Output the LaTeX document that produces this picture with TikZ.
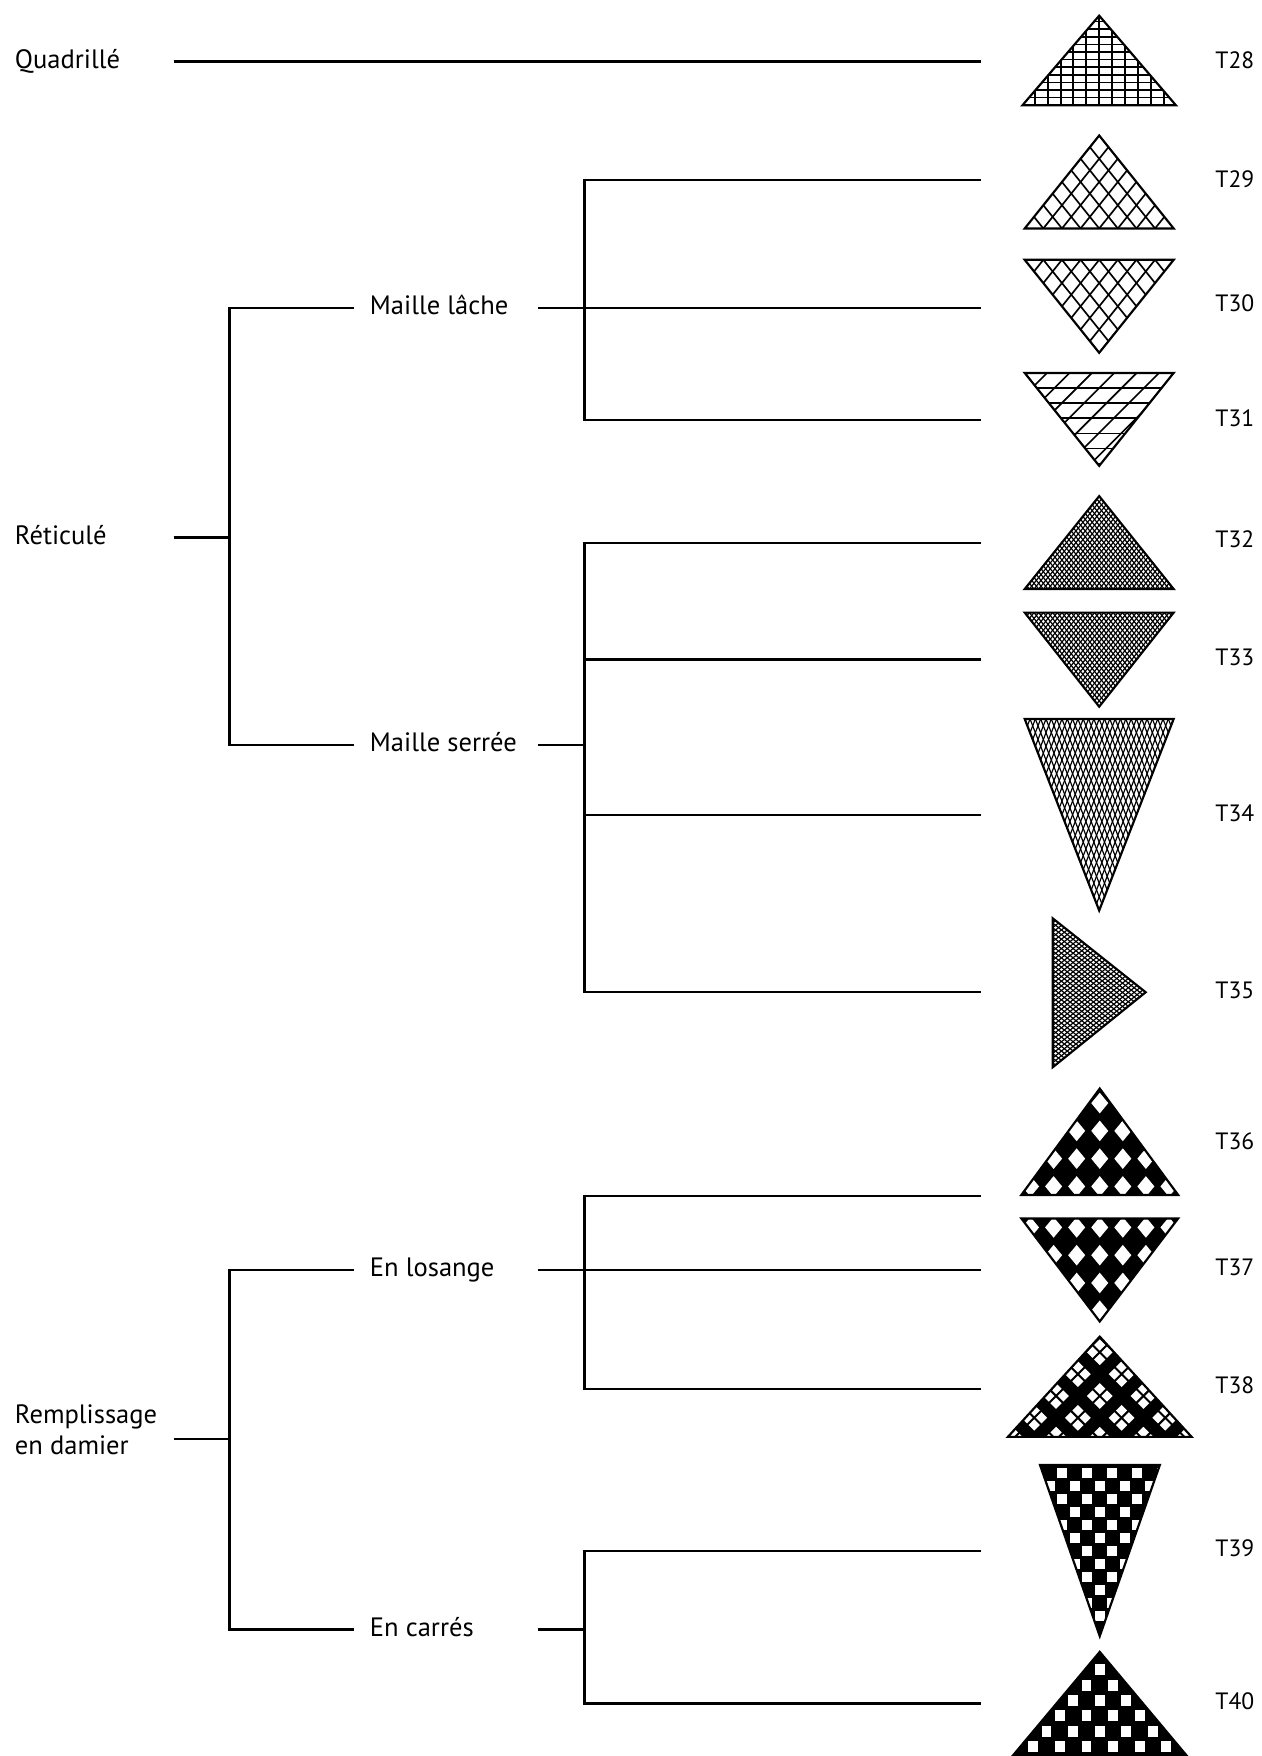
\documentclass[tikz,border=0pt]{standalone}
\usepackage{fontspec}
\setmainfont{PT Sans}
\usetikzlibrary{calc}
\tikzset{
  link/.style={line width=1.15pt,line join=miter},
  lbl/.style={anchor=west,inner sep=0pt,text height=0.7em,text depth=0pt,
    font=\fontsize{13.5}{16}\selectfont},
  code/.style={lbl,font=\fontsize{12}{14}\selectfont},
  edge/.style={line width=1.1pt,line join=miter},
  hatch/.style={line width=0.85pt},
  fine/.style={line width=0.6pt},
}
% triangle with base at y=#2 from x=#1 to #1+#3, apex offset #4, cross hatched parallel to the sides
\newcommand\hatchtri[6]{%
  \begin{scope}
    \clip (#1,#2) -- ++({#3/2},{#4}) -- ++({#3/2},{-(#4)}) -- cycle;
    \pgfmathtruncatemacro\hlast{#5-1}
    \foreach \k in {1,...,\hlast}{
      \draw[#6] ({#1+\k*#3/#5-0.1*#3},{#2-0.2*(#4)}) -- ++({0.7*#3},{1.4*(#4)});
      \draw[#6] ({#1+\k*#3/#5+0.1*#3},{#2-0.2*(#4)}) -- ++({-0.7*#3},{1.4*(#4)});
    }
  \end{scope}
  \draw[edge] (#1,#2) -- ++({#3/2},{#4}) -- ++({#3/2},{-(#4)}) -- cycle;
}

\begin{document}
\begin{tikzpicture}[x=0.02cm,y=-0.02cm]
  \useasboundingbox[fill=white] (0,0) rectangle (1126,1568);

  % labels of the tree
  \node[lbl] (quad) at (13,55) {Quadrillé};
  \node[lbl] (reti) at (13,480) {Réticulé};
  \node[lbl] (lache) at (330,275) {Maille lâche};
  \node[lbl] (serree) at (330,665) {Maille serrée};
  \node[lbl] (damier) at (13,1265) {Remplissage};
  \node[lbl] (damier2) at (13,1293) {en damier};
  \node[lbl] (losange) at (330,1134) {En losange};
  \node[lbl] (carres) at (330,1455) {En carrés};
  \coordinate (jd) at (205,1285);

  % ends of the branches, next to the triangles
  \coordinate (e28) at (876,55);
  \coordinate (e29) at (876,161);
  \coordinate (e30) at (876,275);
  \coordinate (e31) at (876,375);
  \coordinate (e32) at (876,485);
  \coordinate (e33) at (876,589);
  \coordinate (e34) at (876,728);
  \coordinate (e35) at (876,886);
  \coordinate (e36) at (876,1068);
  \coordinate (e37) at (876,1134);
  \coordinate (e38) at (876,1240);
  \coordinate (e39) at (876,1385);
  \coordinate (e40) at (876,1521);

  % codes
  \foreach \t/\y in {28/55,29/161,30/272,31/375,32/483,33/588,34/727,35/885,
                     36/1020,37/1133,38/1238,39/1384,40/1520}
    \node[code] (l\t) at (1085,\y) {T\t};

  % tree
  \draw[link] (155,0 |- quad) -- (e28);
  \draw[link] (155,0 |- reti) -- (205,0 |- reti);
  \draw[link] ($(lache.west)+(-14,0)$) -- (205,0 |- lache)
    -- (205,0 |- serree) -- ($(serree.west)+(-14,0)$);
  \draw[link] (480,0 |- lache) -- (e30);
  \draw[link] (e29) -- (522,0 |- e29) -- (522,0 |- e31) -- (e31);
  \draw[link] (480,0 |- serree) -- (522,0 |- serree);
  \draw[link] (e32) -- (522,0 |- e32) -- (522,0 |- e35) -- (e35);
  \draw[link] (e33) -- (522,0 |- e33);
  \draw[link] (e34) -- (522,0 |- e34);
  \draw[link] (155,0 |- jd) -- (jd);
  \draw[link] ($(losange.west)+(-14,0)$) -- (205,0 |- losange)
    -- (205,0 |- carres) -- ($(carres.west)+(-14,0)$);
  \draw[link] (480,0 |- losange) -- (e37);
  \draw[link] (e36) -- (522,0 |- e36) -- (522,0 |- e38) -- (e38);
  \draw[link] (480,0 |- carres) -- (522,0 |- carres);
  \draw[link] (e39) -- (522,0 |- e39) -- (522,0 |- e40) -- (e40);

  % T28 square grid
  \begin{scope}
    \clip (913,94) -- (981.5,14) -- (1050,94) -- cycle;
    \foreach \k in {-6,...,6} \draw[hatch,line width=1pt] (981.5+\k*11.5,10) -- ++(0,90);
    \foreach \k in {1,...,12} \draw[hatch] (905,94-\k*6.8) -- ++(150,0);
  \end{scope}
  \draw[edge] (913,94) -- (981.5,14) -- (1050,94) -- cycle;

  % T29, T30 open mesh
  \hatchtri{915}{204}{133}{-83}{8}{hatch}
  \hatchtri{915}{232}{133}{83}{8}{hatch}

  % T31 horizontals and slants
  \begin{scope}
    \clip (915,333) -- (981.5,416) -- (1048,333) -- cycle;
    \foreach \k in {1,...,6} \draw[hatch] (905,333+\k*13.5) -- ++(150,0);
    \foreach \k in {0,...,8} \draw[hatch] (925+\k*20,323) -- ++(-110,110);
  \end{scope}
  \draw[edge] (915,333) -- (981.5,416) -- (1048,333) -- cycle;

  % T32 to T34 close mesh
  \hatchtri{915}{526}{133}{-83}{32}{fine}
  \hatchtri{915}{547}{133}{84}{32}{fine}
  \hatchtri{915}{642}{133}{171}{28}{fine}

  % T35 pointing right
  \begin{scope}
    \clip (940,820) -- (1023,886) -- (940,953) -- cycle;
    \foreach \k in {1,...,31}{
      \draw[fine] (923.4,820+\k*4.16-13.2) -- ++(116.2,92.4);
      \draw[fine] (923.4,820+\k*4.16+13.4) -- ++(116.2,-93.8);
    }
  \end{scope}
  \draw[edge] (940,820) -- (1023,886) -- (940,953) -- cycle;

  % T36, T37 white lozenges
  \fill (912,1067) -- (982,972) -- (1052,1067) -- cycle;
  \begin{scope}
    \clip (912,1067) -- (982,972) -- (1052,1067) -- cycle;
    \foreach \r in {0,...,3} \foreach \c in {-4,...,4}
      \fill[white] (982+\c*20.6,985+\r*24.8) +(-7.6,0) -- +(0,-9.2) -- +(7.6,0) -- +(0,9.2) -- cycle;
  \end{scope}
  \draw[edge] (912,1067) -- (982,972) -- (1052,1067) -- cycle;

  \fill (912,1088) -- (982,1180) -- (1052,1088) -- cycle;
  \begin{scope}
    \clip (912,1088) -- (982,1180) -- (1052,1088) -- cycle;
    \foreach \r in {0,...,3} \foreach \c in {-4,...,4}
      \fill[white] (982+\c*20.6,1096+\r*24.8) +(-7.6,0) -- +(0,-9.2) -- +(7.6,0) -- +(0,9.2) -- cycle;
  \end{scope}
  \draw[edge] (912,1088) -- (982,1180) -- (1052,1088) -- cycle;

  % T38 clustered lozenges
  \fill (900,1283) -- (982,1193.5) -- (1064,1283) -- cycle;
  \begin{scope}
    \clip (900,1283) -- (982,1193.5) -- (1064,1283) -- cycle;
    \foreach \i in {0,...,14} \foreach \j in {0,...,14}{
      \pgfmathtruncatemacro\mi{mod(\i,3)}
      \pgfmathtruncatemacro\mj{mod(\j,3)}
      \ifnum\mi<2 \ifnum\mj<2
        \fill[white] (982+\i*6.5-\j*6.5,1201+\i*6.5+\j*6.5) +(-5,0) -- +(0,-5) -- +(5,0) -- +(0,5) -- cycle;
      \fi\fi
    }
  \end{scope}
  \draw[edge] (900,1283) -- (982,1193.5) -- (1064,1283) -- cycle;

  % T39, T40 squares
  \fill (928.6,1308) -- (982,1461) -- (1035.7,1308) -- cycle;
  \begin{scope}
    \clip (928.6,1308) -- (982,1461) -- (1035.7,1308) -- cycle;
    \foreach \r in {0,...,12} \foreach \c in {-5,...,5}
      \fill[white] ({982+\c*22.4+mod(\r+1,2)*11.2},{1315+\r*11.6}) +(-4.5,-4.5) rectangle +(4.5,4.5);
  \end{scope}
  \draw[edge] (928.6,1308) -- (982,1461) -- (1035.7,1308) -- cycle;

  \fill (894,1580) -- (982,1475) -- (1070,1580) -- cycle;
  \begin{scope}
    \clip (894,1580) -- (982,1475) -- (1070,1580) -- cycle;
    \foreach \r in {0,...,7} \foreach \c in {-5,...,5}
      \fill[white] ({982+\c*23.8+mod(\r,2)*11.9},{1491+\r*13.7}) +(-4.4,-5) rectangle +(4.4,5);
  \end{scope}
  \draw[edge] (894,1580) -- (982,1475) -- (1070,1580) -- cycle;
\end{tikzpicture}
\end{document}
